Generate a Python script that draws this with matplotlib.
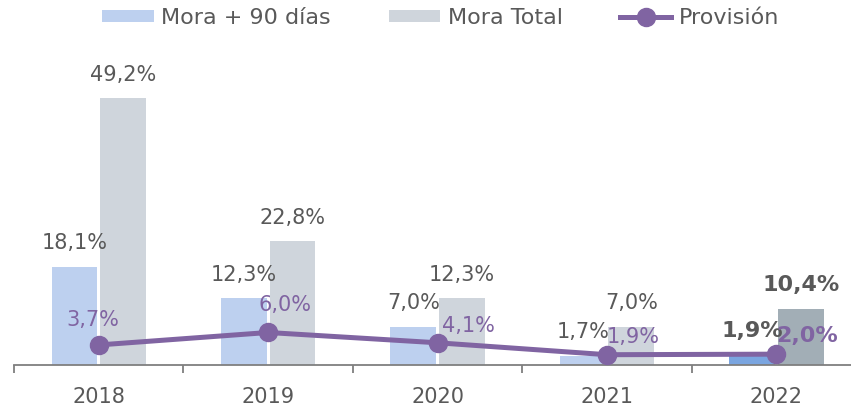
import numpy as np
import matplotlib
matplotlib.use('Agg')
import matplotlib.pyplot as plt
from matplotlib.ticker import FixedLocator

years = ['2018', '2019', '2020', '2021', '2022']
mora90 = [18.1, 12.3, 7.0, 1.7, 1.9]
mora_total = [49.2, 22.8, 12.3, 7.0, 10.4]
provision = [3.7, 6.0, 4.1, 1.9, 2.0]

def pct(v):
    return '{:.1f}%'.format(v).replace('.', ',')

grey_txt = '#595959'
purple = '#8064A2'
blue_c = ['#BDD0EF'] * 4 + ['#7AA5E0']
grey_c = ['#CFD5DC'] * 4 + ['#A2AEB6']

plt.rcParams['font.family'] = ['DejaVu Sans']
fig = plt.figure(figsize=(8.51, 4.08), dpi=100)
ax = fig.add_axes([14/851, 43/408, 1 - 14/851, 298/408])

x = np.arange(len(years))
w = 0.27
b1 = ax.bar(x - 0.143, mora90, w, color=blue_c, label='Mora + 90 días')
b2 = ax.bar(x + 0.143, mora_total, w, color=grey_c, label='Mora Total')
ln, = ax.plot(x, provision, color=purple, lw=3.6, marker='o', ms=13,
              label='Provisión', zorder=5)

# bar labels
for i in range(len(years)):
    bold = (i == len(years) - 1)
    for xx, v in ((x[i] - 0.143, mora90[i]), (x[i] + 0.143, mora_total[i])):
        ax.annotate(pct(v), (xx, v), xytext=(0, 17), textcoords='offset points',
                    ha='center', va='center', color=grey_txt,
                    fontsize=16 if bold else 15,
                    fontweight='bold' if bold else 'normal')

# line labels (manually nudged like the original)
offs = [(-4, 18), (12, 20), (22, 12), (19, 13), (22, 13)]
for i, v in enumerate(provision):
    bold = (i == len(years) - 1)
    ax.annotate(pct(v), (x[i], v), xytext=offs[i], textcoords='offset points',
                ha='center', va='center', color=purple,
                fontsize=16 if bold else 15,
                fontweight='bold' if bold else 'normal', zorder=6)

ax.set_xlim(-0.5, 4.44)
ax.set_ylim(0, 55)
for s in ['left', 'right', 'top']:
    ax.spines[s].set_visible(False)
ax.spines['bottom'].set_color('#7F7F7F')
ax.spines['bottom'].set_linewidth(1.3)
ax.set_yticks([])
ax.set_xticks(x)
ax.set_xticklabels(years, fontsize=15, color=grey_txt)
ax.tick_params(axis='x', which='major', length=0, pad=16)
ax.xaxis.set_minor_locator(FixedLocator(np.arange(-0.5, 4.5, 1.0)))
ax.tick_params(axis='x', which='minor', length=6, width=1.3, color='#7F7F7F')

fig.legend(handles=[b1, b2, ln], loc='center', ncol=3,
           bbox_to_anchor=(441/851, 1 - 18/408), frameon=False,
           fontsize=16, labelcolor=grey_txt, handlelength=2.3,
           handleheight=0.45, handletextpad=0.35, columnspacing=2.6)

fig.savefig('out.png', dpi=100)
